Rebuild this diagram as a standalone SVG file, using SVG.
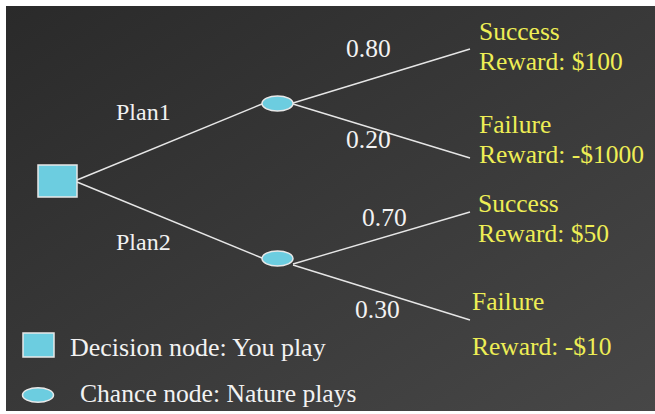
<svg xmlns="http://www.w3.org/2000/svg" width="655" height="414" viewBox="0 0 655 414">
  <defs>
    <linearGradient id="bg" x1="0" y1="0" x2="1" y2="1">
      <stop offset="0" stop-color="#2a2a2a"/>
      <stop offset="1" stop-color="#474747"/>
    </linearGradient>
    <style>
      .t { font-family: "Liberation Serif", "Times New Roman", serif; font-size: 25.5px; }
      .w { fill: #f2f2f2; }
      .y { fill: #eeee55; }
      .edge { stroke: #e6e6e6; stroke-width: 1.4; fill: none; }
      .node { fill: #6ccde0; stroke: #e8e8e8; stroke-width: 1.5; }
    </style>
  </defs>

  <!-- page and panel -->
  <rect x="0" y="0" width="655" height="414" fill="#ffffff"/>
  <rect x="6" y="6" width="649" height="405" fill="url(#bg)"/>

  <!-- connectors -->
  <g id="edges">
    <line class="edge" x1="77" y1="180" x2="262" y2="104"/>
    <line class="edge" x1="77" y1="182" x2="262" y2="258"/>
    <line class="edge" x1="293" y1="103" x2="470" y2="49"/>
    <line class="edge" x1="293" y1="104" x2="470" y2="158"/>
    <line class="edge" x1="293" y1="264" x2="470" y2="212"/>
    <line class="edge" x1="293" y1="265" x2="470" y2="320"/>
  </g>

  <!-- decision node -->
  <g id="decision">
    <rect class="node" x="38" y="165" width="39" height="32"/>
  </g>

  <!-- chance nodes -->
  <g id="chance1">
    <ellipse class="node" cx="277.5" cy="103.5" rx="15.5" ry="7.5"/>
  </g>
  <g id="chance2">
    <ellipse class="node" cx="277.5" cy="258.5" rx="15.5" ry="7.5"/>
  </g>

  <!-- branch labels -->
  <g id="labels">
    <text class="t w" x="116" y="120" style="font-size:24px">Plan1</text>
    <text class="t w" x="116" y="250" style="font-size:24px">Plan2</text>
    <text class="t w" x="346" y="57">0.80</text>
    <text class="t w" x="346" y="148">0.20</text>
    <text class="t w" x="362" y="226">0.70</text>
    <text class="t w" x="355" y="318">0.30</text>
  </g>

  <!-- outcomes -->
  <g id="outcome1">
    <text class="t y" x="479" y="40">Success</text>
    <text class="t y" x="479" y="70">Reward: $100</text>
  </g>
  <g id="outcome2">
    <text class="t y" x="479" y="133">Failure</text>
    <text class="t y" x="479" y="163">Reward: -$1000</text>
  </g>
  <g id="outcome3">
    <text class="t y" x="478" y="212">Success</text>
    <text class="t y" x="478" y="242">Reward: $50</text>
  </g>
  <g id="outcome4">
    <text class="t y" x="472" y="310">Failure</text>
    <text class="t y" x="472" y="355">Reward: -$10</text>
  </g>

  <!-- legend -->
  <g id="legend">
    <rect class="node" x="23" y="333" width="31" height="24"/>
    <text class="t w" x="70" y="356" style="font-size:26px">Decision node: You play</text>
    <ellipse class="node" cx="38" cy="395" rx="15.5" ry="7.3"/>
    <text class="t w" x="80" y="402" style="font-size:25.6px">Chance node: Nature plays</text>
  </g>
</svg>
